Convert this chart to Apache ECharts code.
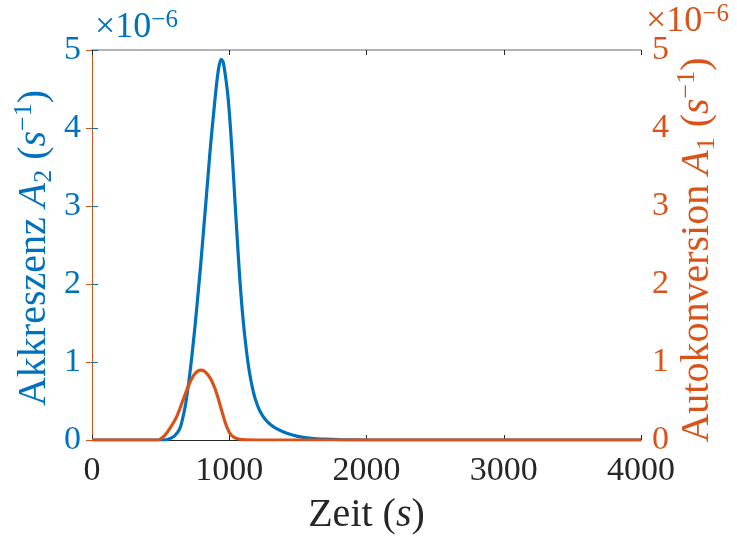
<!DOCTYPE html>
<html>
<head>
<meta charset="utf-8">
<script src="https://cdn.jsdelivr.net/npm/echarts@6/dist/echarts.min.js"></script>
<style>
  html, body { margin: 0; padding: 0; background: #fff; }
  #chart { width: 737px; height: 539px; }
</style>
</head>
<body>
<div id="chart"></div>
<script>
// Accretion rate A2 (left axis), values in units of 1e-6 s^-1
const timeA2 = [0, 520, 556, 600, 641, 678, 702, 726, 750, 774, 792, 811, 830, 847, 865, 884, 905, 922, 940,
  955, 976, 993, 1010, 1025, 1039, 1054, 1071, 1090, 1115, 1146, 1175, 1200, 1224, 1260, 1300, 1345, 1420, 1491, 1600, 1700, 1800, 2000, 4000];
const valA2 = [0, 0, 0.01, 0.05, 0.15, 0.42, 0.70, 1.05, 1.45, 1.90, 2.25, 2.65, 3.05, 3.42, 3.80, 4.15, 4.52, 4.76, 4.88,
  4.85, 4.62, 4.36, 3.97, 3.56, 3.14, 2.70, 2.22, 1.76, 1.30, 0.88, 0.62, 0.47, 0.37, 0.27, 0.20, 0.145, 0.085, 0.05, 0.022, 0.01, 0.004, 0, 0];

// Autoconversion rate A1 (right axis), values in units of 1e-6 s^-1
const timeA1 = [0, 480, 495, 530, 568, 617, 665, 714, 750, 792, 820, 847, 872, 896, 915, 933, 951, 969, 987, 1005, 1030, 1054, 1100, 1200, 4000];
const valA1 = [0, 0, 0.01, 0.06, 0.15, 0.30, 0.52, 0.74, 0.85, 0.895, 0.88, 0.83, 0.76, 0.66, 0.56, 0.45, 0.34, 0.235, 0.15, 0.085, 0.04, 0.02, 0.005, 0, 0];

const xTicks = [0, 1000, 2000, 3000, 4000];
const yTicks = [0, 1, 2, 3, 4, 5];

const BLUE = '#0072BD';
const ORANGE = '#D95319';
const DARK = '#262626';
const BOX = '#9a9a9a';
const FONT = '"Liberation Serif", "DejaVu Serif", serif';

const pairs = (t, v) => t.map((x, i) => [x, v[i]]);

// rich-text styles for axis titles; "key" is 'color' for component text, 'fill' for graphic text
const richMath = (color, key) => ({
  n: { fontFamily: FONT, fontSize: 40, [key]: color, lineHeight: 46, verticalAlign: 'middle' },
  i: { fontFamily: FONT, fontSize: 40, fontStyle: 'italic', [key]: color, lineHeight: 46, verticalAlign: 'middle' },
  sub: { fontFamily: FONT, fontSize: 26, [key]: color, lineHeight: 26, verticalAlign: 'bottom' },
  sup: { fontFamily: FONT, fontSize: 26, [key]: color, lineHeight: 26, verticalAlign: 'top' }
});

const exponentRich = (color) => ({
  n: { fontFamily: FONT, fontSize: 36, fill: color, lineHeight: 40, verticalAlign: 'middle' },
  sup: { fontFamily: FONT, fontSize: 25, fill: color, lineHeight: 24, verticalAlign: 'top' }
});

const chart = echarts.init(document.getElementById('chart'), null, { renderer: 'canvas' });

const yAxisBase = (pos, color) => ({
  type: 'value',
  position: pos,
  min: yTicks[0],
  max: yTicks[yTicks.length - 1],
  interval: 1,
  axisLine: { show: true, lineStyle: { color: color, width: 1 } },
  axisTick: { show: true, inside: true, length: 6, lineStyle: { color: color, width: 1 } },
  axisLabel: { color: color, fontFamily: FONT, fontSize: 34, margin: 11, formatter: (v) => String(v) },
  splitLine: { show: false }
});

chart.setOption({
  animation: false,
  backgroundColor: '#ffffff',
  grid: { left: 92, right: 96, top: 50, bottom: 99, containLabel: false, outerBoundsMode: 'none' },
  xAxis: [
    {
      type: 'value',
      position: 'bottom',
      min: xTicks[0],
      max: xTicks[xTicks.length - 1],
      interval: 1000,
      axisLine: { show: true, onZero: false, lineStyle: { color: DARK, width: 1 } },
      axisTick: { show: true, inside: true, length: 5, lineStyle: { color: DARK } },
      axisLabel: { color: DARK, fontFamily: FONT, fontSize: 34, margin: 14, formatter: (v) => String(v) },
      splitLine: { show: false },
      name: '{n|Zeit (}{i|s}{n|)}',
      nameLocation: 'middle',
      nameGap: 52,
      nameTextStyle: { rich: richMath(DARK, 'color') }
    },
    {
      type: 'value',
      position: 'top',
      min: xTicks[0],
      max: xTicks[xTicks.length - 1],
      interval: 1000,
      axisLine: { show: true, onZero: false, lineStyle: { color: BOX, width: 1.5 } },
      axisTick: { show: true, inside: true, length: 5, lineStyle: { color: DARK } },
      axisLabel: { show: false },
      splitLine: { show: false }
    }
  ],
  yAxis: [yAxisBase('left', BLUE), yAxisBase('right', ORANGE)],
  graphic: [
    {
      type: 'text',
      x: 34, y: 248,
      rotation: Math.PI / 2,
      style: {
        text: '{n|Akkreszenz }{i|A}{sub|2}{n| (}{i|s}{sup|−1}{n|)}',
        rich: richMath(BLUE, 'fill'),
        fill: BLUE,
        align: 'center', verticalAlign: 'middle'
      }
    },
    {
      type: 'text',
      x: 697, y: 250,
      rotation: Math.PI / 2,
      style: {
        text: '{n|Autokonversion }{i|A}{sub|1}{n| (}{i|s}{sup|−1}{n|)}',
        rich: richMath(ORANGE, 'fill'),
        fill: ORANGE,
        align: 'center', verticalAlign: 'middle'
      }
    },
    {
      type: 'text',
      x: 95, y: 28,
      style: {
        text: '{n|×10}{sup|−6}',
        rich: exponentRich(BLUE),
        fill: BLUE,
        align: 'left', verticalAlign: 'middle'
      }
    },
    {
      type: 'text',
      x: 646, y: 22,
      style: {
        text: '{n|×10}{sup|−6}',
        rich: exponentRich(ORANGE),
        fill: ORANGE,
        align: 'left', verticalAlign: 'middle'
      }
    }
  ],
  series: [
    {
      name: 'Akkreszenz',
      type: 'line',
      xAxisIndex: 0,
      yAxisIndex: 0,
      data: pairs(timeA2, valA2),
      smooth: 0.25,
      showSymbol: false,
      lineStyle: { color: BLUE, width: 3.2 },
      itemStyle: { color: BLUE },
      z: 2
    },
    {
      name: 'Autokonversion',
      type: 'line',
      xAxisIndex: 0,
      yAxisIndex: 1,
      data: pairs(timeA1, valA1),
      smooth: 0.25,
      showSymbol: false,
      lineStyle: { color: ORANGE, width: 3.2 },
      itemStyle: { color: ORANGE },
      z: 3
    }
  ]
});
</script>
</body>
</html>
